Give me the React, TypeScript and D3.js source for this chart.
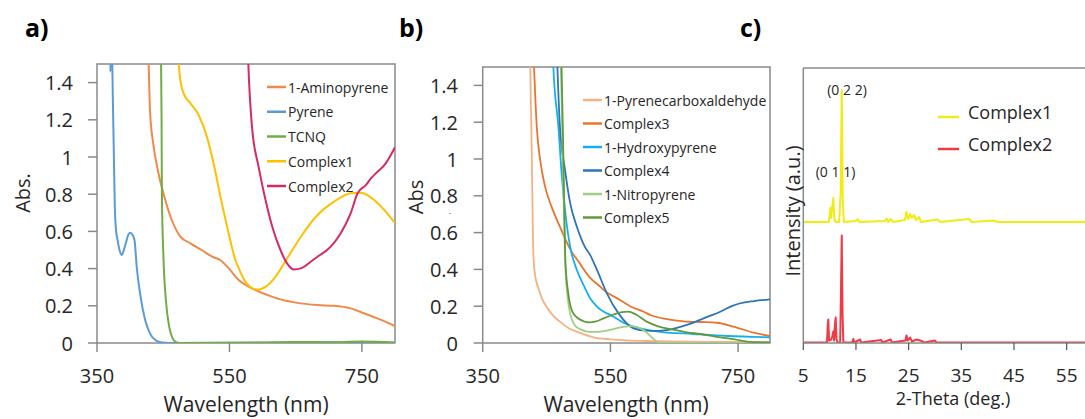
import React from "react";
import * as d3 from "d3";

// ---------- Panel a data: [wavelength nm, absorbance] ----------
const aminopyrene: [number, number][] = [[427,1.6],[428,1.5],[430,1.25],[435,1.07],[443,0.91],[453,0.77],[463,0.66],[476,0.572],[491,0.536],[508,0.5],[524,0.464],[536,0.446],[549,0.401],[564,0.339],[584,0.294],[610,0.255],[635,0.227],[650,0.217],[683,0.204],[708,0.2],[733,0.186],[753,0.16],[779,0.124],[800,0.091]];
const pyrene: [number, number][] = [[369.5,1.6],[370.2,1.46],[371,1.6],[372.5,1.58],[374,1.3],[375.5,1.0],[377,0.72],[379,0.6],[381,0.554],[384,0.5],[387.4,0.473],[390.5,0.5],[393.5,0.536],[397,0.58],[400,0.593],[403,0.585],[406.6,0.554],[410,0.41],[415,0.267],[422.7,0.124],[430,0.052],[438,0.016],[448,0.003],[470,0],[600,0.002],[700,0.004],[800,0.002]];
const tcnq: [number, number][] = [[446.5,1.6],[447.5,1.2],[448,0.8],[450.5,0.446],[454,0.231],[459,0.088],[463,0.035],[468,0.007],[475,0],[600,0.003],[650,0.006],[700,0.004],[750,0.008],[800,0.003]];
const complex1: [number, number][] = [[472,1.6],[473.5,1.5],[475.8,1.414],[480.8,1.342],[491,1.289],[503.5,1.226],[516,1.109],[526,0.966],[536.4,0.787],[546.5,0.625],[559,0.446],[566.7,0.38],[574,0.33],[582,0.3],[589,0.289],[595,0.288],[602,0.297],[619.7,0.357],[632,0.425],[645,0.5],[657.6,0.57],[683,0.688],[708,0.76],[733,0.805],[748.5,0.808],[768.6,0.769],[786,0.706],[800,0.644]];
const complex2: [number, number][] = [[577.5,1.6],[578.5,1.5],[584,1.163],[594,0.948],[604.5,0.769],[614.7,0.625],[627,0.5],[637,0.428],[647.4,0.395],[657.6,0.401],[672.7,0.437],[683,0.464],[703,0.518],[718,0.59],[733,0.697],[743.5,0.805],[756,0.849],[765,0.89],[771,0.912],[786,0.966],[792,1.0],[800,1.052]];

// ---------- Panel b data ----------
const pyrCarbox: [number, number][] = [[423.5,1.6],[424.5,1.5],[427,1.0],[428.4,0.65],[429.5,0.47],[432,0.37],[437,0.3],[443,0.24],[450,0.197],[460,0.15],[471,0.116],[485,0.08],[502.6,0.055],[523.5,0.031],[550,0.02],[576,0.014],[620,0.01],[700,0.006],[800,0.005]];
const complex3: [number, number][] = [[429.5,1.6],[430.5,1.5],[434.7,1.175],[440,0.995],[447.7,0.85],[458,0.74],[471,0.632],[487,0.51],[502.6,0.43],[518,0.355],[534,0.306],[539,0.29],[565,0.234],[581,0.2],[602,0.17],[612.5,0.152],[638.6,0.13],[664.8,0.118],[691,0.114],[717,0.11],[743,0.089],[774.5,0.056],[800,0.038]];
const hydroxy: [number, number][] = [[460,1.6],[460.7,1.5],[468.6,1.175],[474,0.904],[479,0.72],[487,0.523],[497.5,0.397],[508,0.315],[518,0.245],[529,0.198],[555,0.143],[570.6,0.11],[586,0.089],[596.8,0.08],[628,0.061],[680,0.049],[732.7,0.038],[800,0.031]];
const complex4: [number, number][] = [[466,1.6],[467,1.5],[471,1.175],[479,0.94],[487,0.76],[497.5,0.632],[510.5,0.52],[518,0.48],[529,0.397],[544.5,0.27],[562.7,0.161],[586,0.08],[607,0.067],[623,0.066],[638.6,0.07],[670,0.098],[696,0.134],[722,0.17],[740,0.2],[753.6,0.216],[775,0.228],[800,0.237]];
const nitro: [number, number][] = [[471.5,1.6],[472.5,1.5],[476,0.9],[479,0.45],[483,0.25],[487,0.16],[492,0.11],[497.5,0.085],[503,0.075],[513,0.062],[523.5,0.06],[540,0.065],[555,0.076],[570,0.088],[583.7,0.092],[595,0.082],[602,0.07],[612,0.04],[623,0.007],[630,0],[800,0]];
const complex5: [number, number][] = [[472.5,1.6],[473.5,1.5],[477,0.9],[479.5,0.45],[484,0.27],[492,0.16],[508,0.118],[516,0.112],[526,0.116],[540,0.135],[555,0.155],[568,0.168],[578,0.17],[590,0.155],[607,0.116],[625,0.09],[644,0.076],[670,0.058],[691,0.049],[720,0.032],[745,0.02],[764,0.008],[780,0.004],[800,0.003]];

// ---------- Panel c data: [2-theta, intensity a.u.] ----------
const xrdComplex1: [number, number][] = [[5,0],[9.8,0],[10.0,60],[10.15,140],[10.3,40],[10.5,150],[10.7,240],[10.9,30],[11.1,0],[11.8,0],[12.1,300],[12.3,1320],[12.5,200],[12.7,0],[15,10],[15.3,30],[15.6,0],[18,5],[20.5,10],[20.8,35],[21.1,0],[21.6,30],[22,0],[24.3,20],[24.6,100],[24.9,30],[25.3,80],[25.6,40],[26.0,70],[26.4,20],[27,50],[27.3,0],[30.5,25],[31,0],[36.5,30],[37,0],[41,15],[42,0],[60,0]];
const xrdComplex2: [number, number][] = [[5,0],[9.5,0],[9.65,180],[9.75,230],[9.9,20],[10.3,30],[10.5,60],[10.7,110],[10.85,20],[11.0,180],[11.15,250],[11.3,30],[11.5,0],[12.0,0],[12.15,500],[12.3,1070],[12.45,300],[12.6,0],[14.3,0],[14.5,35],[14.7,0],[15.8,30],[16,0],[19.8,25],[20,0],[21.6,30],[21.8,0],[24.4,20],[24.6,70],[24.8,20],[25.3,50],[25.6,10],[26.5,30],[27.5,15],[28,0],[30,20],[30.3,0],[60,0]];
const xrdOffsets = [1210, 5];

// ---------- ticks / labels ----------
const absTicks = [0, 0.2, 0.4, 0.6, 0.8, 1, 1.2, 1.4];
const wlTicks = [350, 550, 750];
const thetaTicks = [5, 15, 25, 35, 45, 55];

const seriesA = [
  { name: "1-Aminopyrene", data: aminopyrene, color: "#f08a4b" },
  { name: "Pyrene", data: pyrene, color: "#5b9bd5" },
  { name: "TCNQ", data: tcnq, color: "#70ad47" },
  { name: "Complex1", data: complex1, color: "#ffc000" },
  { name: "Complex2", data: complex2, color: "#d42a6a" },
];
const seriesB = [
  { name: "1-Pyrenecarboxaldehyde", data: pyrCarbox, color: "#f4b183" },
  { name: "Complex3", data: complex3, color: "#e8752e" },
  { name: "1-Hydroxypyrene", data: hydroxy, color: "#14b0ee" },
  { name: "Complex4", data: complex4, color: "#2e75b6" },
  { name: "1-Nitropyrene", data: nitro, color: "#9fcf82" },
  { name: "Complex5", data: complex5, color: "#5f9a3c" },
];
const seriesC = [
  { name: "Complex1", data: xrdComplex1, color: "#f0ec14" },
  { name: "Complex2", data: xrdComplex2, color: "#f03a46" },
];

const FONT = "'Open Sans', sans-serif";
const AX = "#8a8a8a";
const TXT = "#262626";

function fmt(v: number) {
  return String(+v.toFixed(1));
}

function UVPanel(props: {
  id: string;
  x0: number; x1: number; y0: number; y1: number;
  series: { name: string; data: [number, number][]; color: string }[];
  legX: number; legY: number; legStep: number;
  labelRight: number; yTitleX: number; yTitleY: number; yTitle: string;
  xTitleX: number; xTitleY: number;
  tag: string; tagX: number;
  lw: number;
}) {
  const p = props;
  const x = d3.scaleLinear().domain([350, 800]).range([p.x0, p.x1]);
  const y = d3.scaleLinear().domain([0, 1.5]).range([p.y1, p.y0]);
  const line = d3.line<[number, number]>().x(d => x(d[0])).y(d => y(d[1])).curve(d3.curveMonotoneX);
  return (
    <g>
      <defs>
        <clipPath id={p.id}>
          <rect x={p.x0} y={p.y0} width={p.x1 - p.x0} height={p.y1 - p.y0} />
        </clipPath>
      </defs>
      <rect x={p.x0} y={p.y0} width={p.x1 - p.x0} height={p.y1 - p.y0} fill="none" stroke={AX} strokeWidth={1.5} />
      {absTicks.map(t => (
        <g key={t}>
          <line x1={p.x0 - 9} x2={p.x0} y1={y(t)} y2={y(t)} stroke={AX} strokeWidth={1.5} />
          <text x={p.labelRight} y={y(t)} textAnchor="end" dominantBaseline="central" fontSize={20} fill={TXT} fontFamily={FONT}>{fmt(t)}</text>
        </g>
      ))}
      {wlTicks.map(t => (
        <g key={t}>
          <line x1={x(t)} x2={x(t)} y1={p.y1} y2={p.y1 + 9} stroke={AX} strokeWidth={1.5} />
          <text x={x(t)} y={375} textAnchor="middle" dominantBaseline="central" fontSize={20} fill={TXT} fontFamily={FONT}>{t}</text>
        </g>
      ))}
      <g clipPath={`url(#${p.id})`}>
        {p.series.map(s => (
          <path key={s.name} d={line(s.data) || ""} fill="none" stroke={s.color} strokeWidth={p.lw} />
        ))}
      </g>
      {p.series.map((s, i) => (
        <g key={s.name}>
          <line x1={p.legX} x2={p.legX + 19} y1={p.legY + i * p.legStep} y2={p.legY + i * p.legStep} stroke={s.color} strokeWidth={2.5} />
          <text x={p.legX + 21} y={p.legY + i * p.legStep} dominantBaseline="central" fontSize={14} fill={TXT} fontFamily={FONT}>{s.name}</text>
        </g>
      ))}
      <text transform={`translate(${p.yTitleX},${p.yTitleY}) rotate(-90)`} textAnchor="middle" dominantBaseline="central" fontSize={20} fill={TXT} fontFamily={FONT}>{p.yTitle}</text>
      <text x={p.xTitleX} y={p.xTitleY} textAnchor="middle" dominantBaseline="central" fontSize={21} fill={TXT} fontFamily={FONT}>Wavelength (nm)</text>
      <text x={p.tagX} y={27} dominantBaseline="central" fontSize={25} fontWeight="bold" fill="#000" fontFamily={FONT}>{p.tag}</text>
    </g>
  );
}

function XRDPanel() {
  const x0 = 803.3, y0 = 68, y1 = 343;
  const x = d3.scaleLinear().domain([5, 60]).range([x0, x0 + 55 * 5.267]);
  const y = d3.scaleLinear().domain([0, 2750]).range([y1, y0]);
  return (
    <g>
      <defs>
        <clipPath id="clipC">
          <rect x={x0} y={y0} width={400} height={y1 - y0} />
        </clipPath>
      </defs>
      <g clipPath="url(#clipC)">
        {seriesC.map((s, i) => {
          const line = d3.line<[number, number]>().x(d => x(d[0])).y(d => y(d[1] + xrdOffsets[i]));
          return <path key={s.name} d={line(s.data) || ""} fill="none" stroke={s.color} strokeWidth={2} strokeLinejoin="round" />;
        })}
      </g>
      <line x1={x0} x2={1085} y1={y0} y2={y0} stroke={AX} strokeWidth={1.5} />
      <line x1={x0} x2={x0} y1={y0} y2={y1} stroke={AX} strokeWidth={1.5} />
      <line x1={x0} x2={1085} y1={y1} y2={y1} stroke={AX} strokeWidth={1.5} />
      {thetaTicks.map(t => (
        <g key={t}>
          <line x1={x(t)} x2={x(t)} y1={y1} y2={y1 + 7} stroke="#555" strokeWidth={1.2} />
          <text x={x(t)} y={375} textAnchor="middle" dominantBaseline="central" fontSize={19} fill={TXT} fontFamily={FONT}>{t}</text>
        </g>
      ))}
      <text x={847} y={89} textAnchor="middle" dominantBaseline="central" fontSize={14} fill={TXT} fontFamily={FONT}>(0 2 2)</text>
      <text x={835.5} y={171} textAnchor="middle" dominantBaseline="central" fontSize={14} fill={TXT} fontFamily={FONT}>(0 1 1)</text>
      {seriesC.map((s, i) => (
        <g key={s.name}>
          <line x1={938} x2={959} y1={117 + i * 32} y2={117 + i * 32} stroke={s.color} strokeWidth={2.5} />
          <text x={968} y={112 + i * 32} dominantBaseline="central" fontSize={18} fill={TXT} fontFamily={FONT}>{s.name}</text>
        </g>
      ))}
      <text transform={`translate(792,211) rotate(-90)`} textAnchor="middle" dominantBaseline="central" fontSize={20} fill={TXT} fontFamily={FONT}>Intensity (a.u.)</text>
      <text x={953} y={398} textAnchor="middle" dominantBaseline="central" fontSize={18} fill={TXT} fontFamily={FONT}>2-Theta (deg.)</text>
      <text x={740} y={27} dominantBaseline="central" fontSize={25} fontWeight="bold" fill="#000" fontFamily={FONT}>c)</text>
    </g>
  );
}

export default function App() {
  return (
    <svg width={1085} height={419} style={{ position: "absolute", left: 0, top: 0, background: "#fff" }}>
      <rect width={1085} height={419} fill="#fff" />
      <UVPanel id="clipA" x0={97} x1={395} y0={64} y1={343} series={seriesA}
        legX={267} legY={87} legStep={24.75} labelRight={73} yTitleX={22} yTitleY={193} yTitle="Abs."
        xTitleX={246} xTitleY={404} tag="a)" tagX={25} lw={2} />
      <UVPanel id="clipB" x0={482.7} x1={770} y0={67} y1={343} series={seriesB}
        legX={583} legY={100} legStep={23.5} labelRight={458} yTitleX={415} yTitleY={197} yTitle="Abs"
        xTitleX={626} xTitleY={404} tag="b)" tagX={399} lw={1.8} />
      <text x={450} y={214} textAnchor="middle" fontSize={9} fill={TXT} fontFamily={FONT}>.</text>
      <XRDPanel />
    </svg>
  );
}
